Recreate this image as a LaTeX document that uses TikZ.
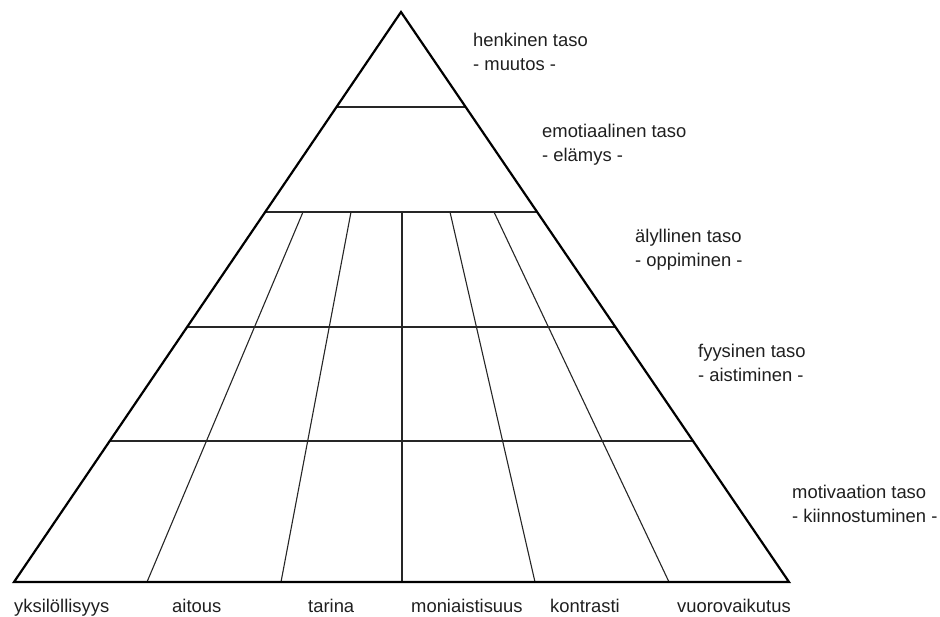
\documentclass[tikz,border=0pt]{standalone}
\usepackage{fontspec}
\setmainfont{Liberation Sans}
\usetikzlibrary{calc}
\tikzset{
  edge/.style={line width=2.2pt, line join=miter, black},
  inner/.style={line width=1.1pt, black!85},
  lbl/.style={inner sep=0pt, anchor=base west, text=black!88, font=\fontsize{18.4}{22}\selectfont},
}
\begin{document}
\begin{tikzpicture}[x=1pt,y=-1pt]
\useasboundingbox (0,0) rectangle (940,617);
\coordinate (apex) at (401,12);
\coordinate (bl) at (14,582);
\coordinate (br) at (789,582);
% horizontal level lines
\foreach \n/\t in {1/0.16667,2/0.35088,3/0.55263,4/0.75263}{
  \coordinate (L\n) at ($(apex)!\t!(bl)$);
  \coordinate (R\n) at ($(apex)!\t!(br)$);
}
\draw[inner] (L1) -- (R1);
\draw[inner] (L2) -- (R2);
\draw[inner] (L3) -- (R3);
\draw[inner] (L4) -- (R4);
% slanted column lines
\coordinate (t1) at (303,212); \coordinate (b1) at (147,582);
\coordinate (t2) at (351,212); \coordinate (b2) at (281,582);
\coordinate (t3) at (402,212); \coordinate (b3) at (402,582);
\coordinate (t4) at (450,212); \coordinate (b4) at (535,582);
\coordinate (t5) at (494,212); \coordinate (b5) at (669,582);
\foreach \i in {1,...,5}{\draw[inner] (t\i) -- (b\i);}
% outline
\draw[edge] (bl) -- (apex) -- (br) -- cycle;
% level labels
\node[lbl] (h1) at (473,47) {henkinen taso};
\node[lbl] (h2) at (473,71) {- muutos -};
\node[lbl] (e1) at (542,138) {emotiaalinen taso};
\node[lbl] (e2) at (542,162) {- elämys -};
\node[lbl] (a1) at (635,243) {älyllinen taso};
\node[lbl] (a2) at (635,267) {- oppiminen -};
\node[lbl] (f1) at (698,358) {fyysinen taso};
\node[lbl] (f2) at (698,382) {- aistiminen -};
\node[lbl] (m1) at (792,498) {motivaation taso};
\node[lbl] (m2) at (792,522) {- kiinnostuminen -};
% bottom labels
\node[lbl] (c1) at (14,612) {yksilöllisyys};
\node[lbl] (c2) at (172,612) {aitous};
\node[lbl] (c3) at (308,612) {tarina};
\node[lbl] (c4) at (411,612) {moniaistisuus};
\node[lbl] (c5) at (550,612) {kontrasti};
\node[lbl] (c6) at (677,612) {vuorovaikutus};
\end{tikzpicture}
\end{document}
